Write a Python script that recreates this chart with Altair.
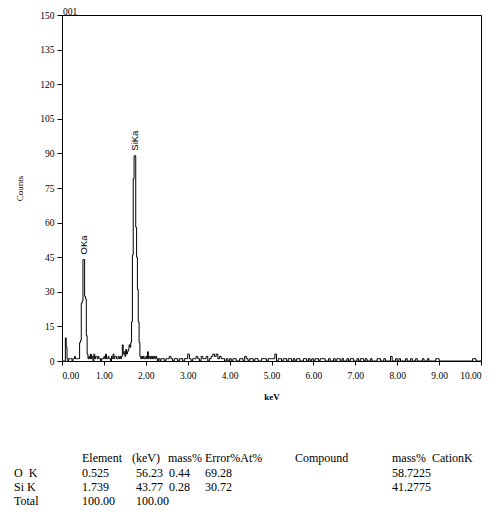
import altair as alt
import pandas as pd

# ---------------- spectrum data (counts per channel) ----------------
LOW_START = 0.0
LOW_STEP = 0.02
counts_low = [
    0, 0, 0, 0, 10, 6, 1, 0, 1, 1,
    1, 1, 0, 1, 1, 2, 1, 1, 1, 1,
    1, 8, 9, 25, 26, 44, 44, 28, 27, 11,
    3, 1, 2, 1, 3, 1, 2, 0, 3, 1,
    2, 2, 1, 2, 1, 1, 0, 1, 1, 1,
    2, 1, 3, 1, 1, 2, 1, 1, 0, 2,
    1, 3, 1, 2, 2, 1, 1, 2, 1, 2,
    1, 2, 7, 3, 4, 2, 5, 3, 4, 5,
    7, 6, 8, 17, 46, 79, 89, 89, 58, 45,
    31, 17, 8, 2, 1, 2, 1, 2, 1, 1,
    2, 1, 4, 1, 2, 1, 2, 1, 2, 1,
    2, 1, 2, 1, 0, 1, 1, 0, 1, 1,
]
HIGH_START = 2.40
HIGH_STEP = 0.04
counts_high = [
    1, 0, 1, 1, 2, 1, 0, 1, 1, 0,
    1, 1, 0, 1, 1, 3, 1, 0, 1, 1,
    2, 1, 0, 2, 1, 1, 2, 0, 1, 2,
    3, 2, 3, 1, 2, 1, 1, 0, 1, 0,
    1, 0, 1, 1, 0, 0, 1, 1, 0, 2,
    1, 0, 1, 1, 0, 1, 1, 0, 0, 1,
    1, 1, 0, 1, 1, 1, 1, 3, 0, 1,
    1, 0, 1, 1, 0, 1, 1, 0, 1, 0,
    1, 1, 0, 0, 1, 1, 0, 1, 0, 1,
    0, 1, 1, 0, 1, 1, 1, 0, 0, 1,
    0, 0, 1, 0, 1, 1, 0, 1, 0, 0,
    1, 0, 1, 1, 0, 0, 1, 0, 1, 1,
    0, 1, 0, 0, 1, 0, 0, 0, 1, 1,
    0, 0, 1, 0, 0, 0, 2, 0, 0, 1,
    0, 1, 0, 0, 0, 1, 0, 0, 1, 0,
    0, 1, 0, 0, 0, 1, 0, 0, 1, 0,
    0, 0, 0, 1, 1, 0, 0, 0, 0, 0,
    0, 0, 0, 0, 0, 0, 0, 0, 0, 0,
    0, 0, 0, 0, 0, 1, 1, 0, 0, 0,
]
END_KEV = 10.0

# peak labels
peak_names = ["OKa", "SiKa"]
peak_kev = [0.525, 1.739]
peak_counts = [44, 89]

# axis ticks
x_ticks = [0, 1, 2, 3, 4, 5, 6, 7, 8, 9, 10]
y_ticks = [0, 15, 30, 45, 60, 75, 90, 105, 120, 135, 150]

# quantification table
table_header = ["Element", "(keV)", "mass%", "Error%At%", "Compound", "mass%", "CationK"]
row_labels = ["O\u00a0\u00a0K", "Si K", "Total"]
row_values = [
    ["0.525", "56.23", "0.44", "69.28", "58.7225"],
    ["1.739", "43.77", "0.28", "30.72", "41.2775"],
    ["100.00", "100.00"],
]
spectrum_name = "001"

# ---------------- layout (page pixels) ----------------
PAD_L, PAD_T, PAD_R, PAD_B = 54, 7, 11, 147
PLOT_W, PLOT_H = 419, 346
header_x = [82, 132, 168, 205, 295, 392, 432]
value_x = [82, 136, 169, 205, 392]
label_x = 14
header_y = 458
rows_y = [473, 487, 501]
TABLE_FONT = 12

energies = [round(LOW_START + i * LOW_STEP, 3) for i in range(len(counts_low))]
energies += [round(HIGH_START + i * HIGH_STEP, 3) for i in range(len(counts_high))]
energies += [END_KEV]
counts = counts_low + counts_high + [0]

spec = pd.DataFrame({"keV": energies, "Counts": counts})
peaks = pd.DataFrame({"name": peak_names, "keV": peak_kev, "Counts": peak_counts})

xscale = alt.Scale(domain=[0, 10], nice=False, zero=False)
yscale = alt.Scale(domain=[0, 150], nice=False)

x_axis = alt.Axis(values=x_ticks, format=".2f", title="keV",
                  tickSize=4, labelPadding=5, titlePadding=13,
                  titleFontWeight="bold", titleFontSize=9,
                  labelFontSize=9.5, labelOverlap=False)
y_axis = alt.Axis(values=y_ticks, title="Counts",
                  tickSize=5, labelPadding=3, titlePadding=15,
                  titleFontWeight="normal", titleFontSize=9,
                  labelFontSize=9.5, labelOverlap=False)

line = alt.Chart(spec).mark_line(
    interpolate="step-after", color="black", strokeWidth=1
).encode(
    x=alt.X("keV:Q", scale=xscale, axis=x_axis),
    y=alt.Y("Counts:Q", scale=yscale, axis=y_axis),
)

peak_text = alt.Chart(peaks).mark_text(
    angle=270, align="left", baseline="middle", dx=5,
    font="Liberation Sans", fontSize=9.5, color="black"
).encode(
    x=alt.X("keV:Q", scale=xscale, axis=x_axis),
    y=alt.Y("Counts:Q", scale=yscale, axis=y_axis),
    text="name:N",
)

one = pd.DataFrame({"a": [0]})


def txt(s, px, py, size=TABLE_FONT, font="Liberation Serif", baseline="middle"):
    return alt.Chart(one).mark_text(
        align="left", baseline=baseline, font=font, fontSize=size, color="black"
    ).encode(x=alt.value(px - 8 - PAD_L), y=alt.value(py - 8 - PAD_T), text=alt.value(s))


layers = [line, peak_text]
layers.append(txt(spectrum_name, 63, 14.5, size=9.5, baseline="alphabetic"))
for s, px in zip(table_header, header_x):
    layers.append(txt(s, px, header_y))
for lab, vals, py in zip(row_labels, row_values, rows_y):
    layers.append(txt(lab, label_x, py))
    for s, px in zip(vals, value_x):
        layers.append(txt(s, px, py))

chart = alt.layer(*layers).properties(
    width=PLOT_W, height=PLOT_H,
    autosize=alt.AutoSizeParams(type="none"),
    padding={"left": PAD_L, "top": PAD_T, "right": PAD_R, "bottom": PAD_B},
    background="white",
).configure_view(
    stroke="black", strokeWidth=1
).configure_axis(
    grid=False, domainColor="black", tickColor="black",
    labelColor="black", titleColor="black",
    labelFont="Liberation Serif", titleFont="Liberation Serif",
    labelOverlap=False,
)

chart.save("out.html", embed_options={"renderer": "svg", "actions": False})
